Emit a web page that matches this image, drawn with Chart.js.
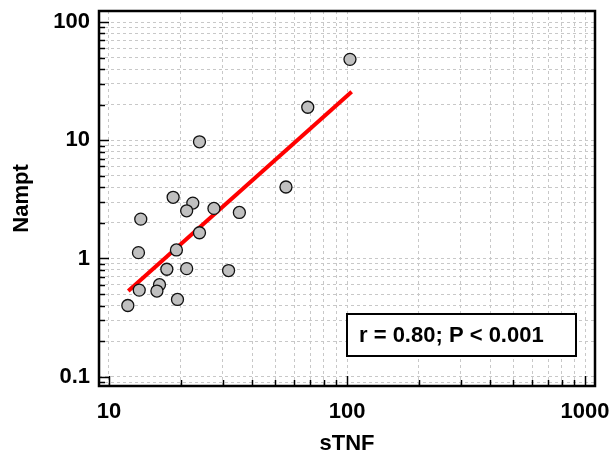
<!DOCTYPE html>
<html>
<head>
<meta charset="utf-8">
<script src="https://cdn.jsdelivr.net/npm/chart.js@4"></script>
<style>
body{margin:0;background:#fff;}
#caja{width:613px;height:460px;}
</style>
</head>
<body>
<div id="caja"><canvas id="grafica" width="613" height="460"></canvas></div>
<script>
//datos
const sTNF=[102.9,68.4,55.4,18.6,22.5,21.2,27.6,35.3,13.6,24.0,24.0,13.3,19.2,17.5,21.2,31.8,16.3,15.9,13.4,19.4,12.0];
const nampt=[48.3,19.0,4.02,3.29,2.94,2.53,2.65,2.45,2.15,9.7,1.65,1.12,1.18,0.81,0.82,0.79,0.60,0.53,0.54,0.45,0.40];
const lineaX=[12.05,104.6];
const lineaY=[0.53,25.7];
const ticksX=[10,100,1000];
const ticksY=[0.1,1,10,100];
const textoR="r = 0.80; P < 0.001";

const fuente={family:"'Liberation Sans', Arial, sans-serif",size:22,weight:'bold'};

//grid at 1..9 of each decade
function rejilla(decadas,min,max){
    let out=[];
    decadas.forEach(function(d){
        for(let k=1;k<10;k++){
            let v=d*k;
            if(v>=min&&v<=max) out.push(v);
        }
    });
    return out;
}

//sin padding extra por las etiquetas
function sinPadding(s){
    s.paddingLeft=0;s.paddingRight=0;s.paddingTop=0;s.paddingBottom=0;
}

const puntos=sTNF.map(function(x,i){return {x:x,y:nampt[i]};});
const linea=lineaX.map(function(x,i){return {x:x,y:lineaY[i]};});

const extras={
    id:'extras',
    afterDraw(chart){
        const ctx=chart.ctx;
        const a=chart.chartArea;
        const sx=chart.scales.x;
        const sy=chart.scales.y;
        ctx.save();
        ctx.strokeStyle='#000';
        //ticks hacia dentro
        ctx.lineWidth=1.5;
        sy.ticks.forEach(function(t){
            const py=Math.round(sy.getPixelForValue(t.value))+0.5;
            const len=ticksY.includes(t.value)?10:6;
            ctx.beginPath();ctx.moveTo(a.left,py);ctx.lineTo(a.left+len,py);ctx.stroke();
        });
        sx.ticks.forEach(function(t){
            const px=Math.round(sx.getPixelForValue(t.value))+0.5;
            const len=ticksX.includes(t.value)?10:6;
            ctx.beginPath();ctx.moveTo(px,a.bottom);ctx.lineTo(px,a.bottom-len);ctx.stroke();
        });
        //marco
        ctx.lineWidth=2.5;
        ctx.strokeRect(a.left,a.top,a.right-a.left,a.bottom-a.top);
        //cuadro del texto
        ctx.fillStyle='#fff';
        ctx.fillRect(347,314,229,42);
        ctx.lineWidth=2;
        ctx.strokeRect(347,314,229,42);
        ctx.fillStyle='#000';
        ctx.font="bold 22px 'Liberation Sans', Arial, sans-serif";
        ctx.textBaseline='middle';
        ctx.fillText(textoR,359,336);
        ctx.restore();
    }
};

new Chart(document.getElementById('grafica'),{
    type:'scatter',
    data:{
        datasets:[
            {
                label:'Nampt',
                data:puntos,
                pointRadius:6,
                pointHoverRadius:6,
                backgroundColor:'#c0c0c0',
                borderColor:'#111',
                borderWidth:1.3,
                order:0
            },
            {
                label:'fit',
                type:'line',
                data:linea,
                showLine:true,
                borderColor:'#ff0000',
                borderWidth:4,
                pointRadius:0,
                fill:false,
                order:1
            }
        ]
    },
    options:{
        responsive:false,
        devicePixelRatio:1,
        animation:false,
        layout:{padding:{left:0,right:18,top:11,bottom:0}},
        plugins:{legend:{display:false},tooltip:{enabled:false}},
        scales:{
            x:{
                type:'logarithmic',
                min:9.08,
                max:1101,
                afterFit:function(s){s.height=74;sinPadding(s);},
                afterBuildTicks:function(s){s.ticks=rejilla([10,100,1000],s.min,s.max).map(function(v){return {value:v};});},
                grid:{color:'#c8c8c8',lineWidth:1,drawTicks:false},
                border:{display:false,dash:[3,3]},
                ticks:{
                    autoSkip:false,
                    maxRotation:0,
                    padding:13,
                    color:'#000',
                    font:fuente,
                    callback:function(v){return ticksX.includes(v)?String(v):'';}
                },
                title:{display:true,text:'sTNF',color:'#000',font:fuente,padding:{top:0,bottom:3}}
            },
            y:{
                type:'logarithmic',
                min:0.0834,
                max:123.9,
                afterFit:function(s){s.width=99;sinPadding(s);},
                afterBuildTicks:function(s){s.ticks=rejilla([0.01,0.1,1,10,100],s.min,s.max).map(function(v){return {value:v};});},
                grid:{color:'#c8c8c8',lineWidth:1,drawTicks:false},
                border:{display:false,dash:[3,3]},
                ticks:{
                    autoSkip:false,
                    padding:9,
                    color:'#000',
                    font:fuente,
                    callback:function(v){return ticksY.includes(v)?String(v):'';}
                },
                title:{display:true,text:'Nampt',color:'#000',font:fuente,padding:{top:9,bottom:0}}
            }
        }
    },
    plugins:[extras]
});
</script>
</body>
</html>
